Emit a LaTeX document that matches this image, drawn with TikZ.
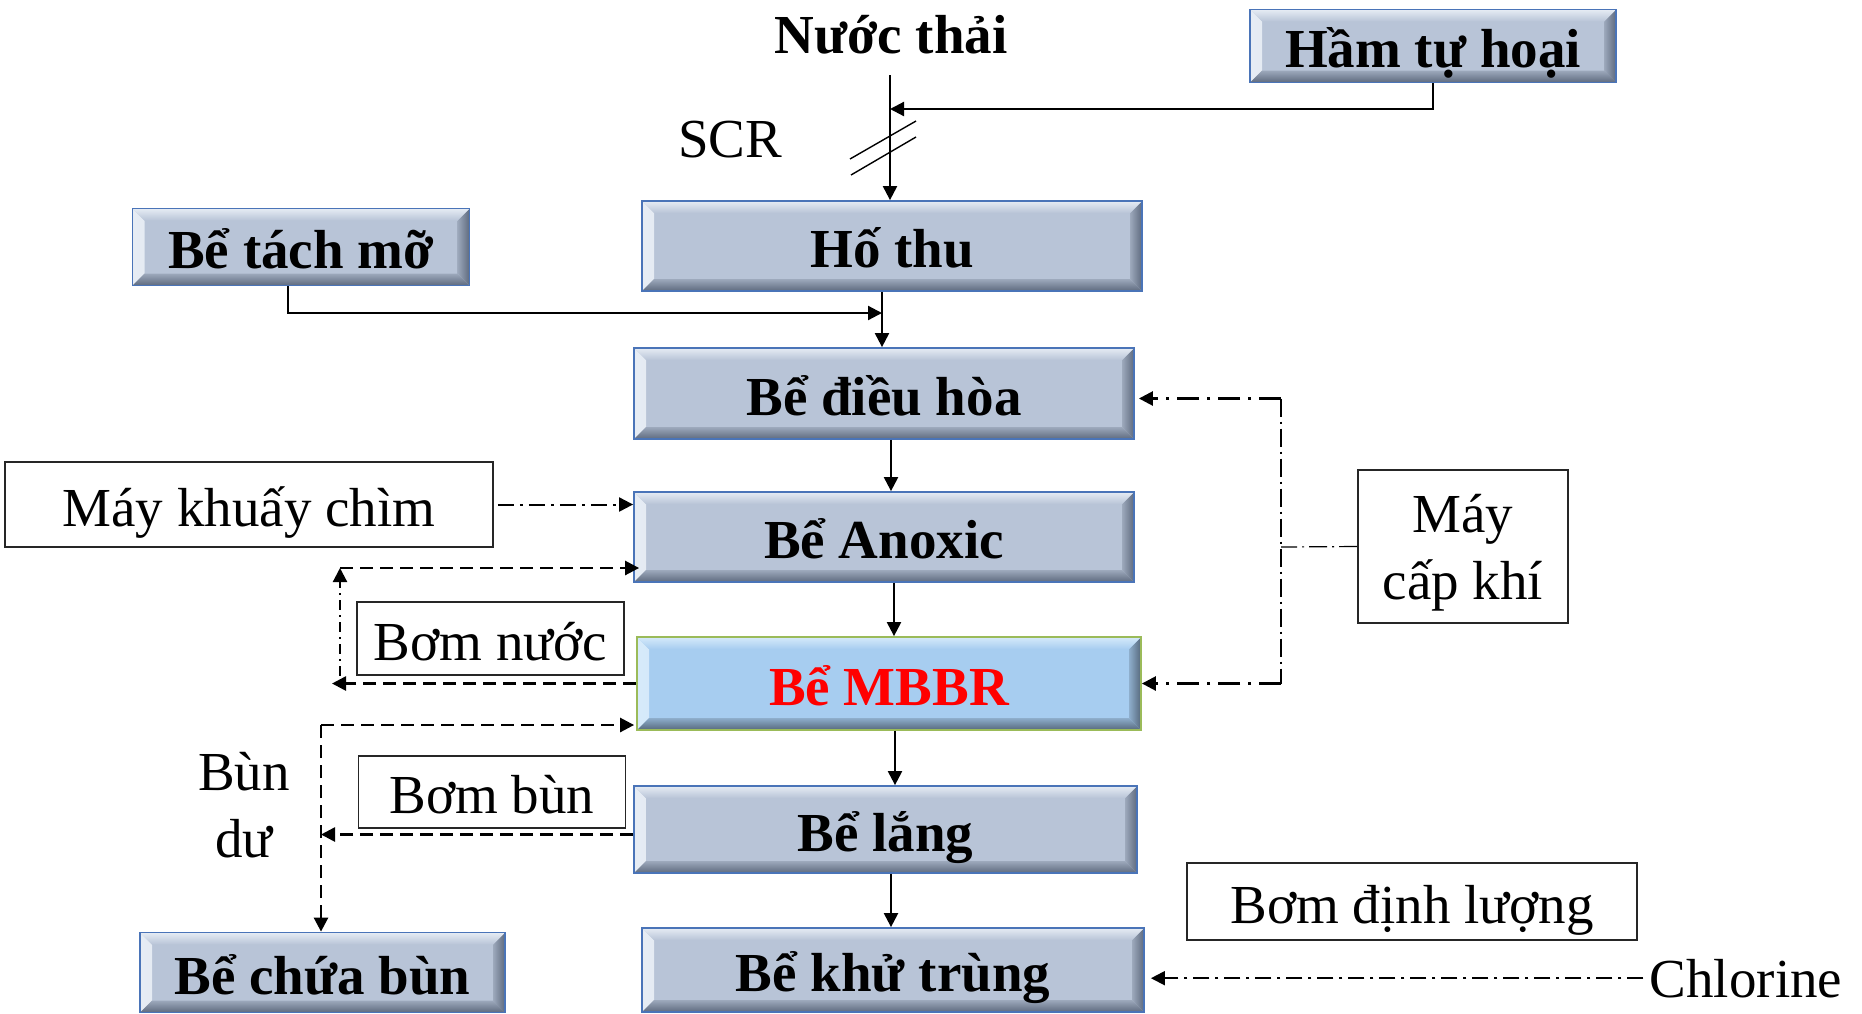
\documentclass[tikz,border=0pt]{standalone}
\usepackage{fontspec}
\setmainfont{Liberation Serif}
\usetikzlibrary{arrows.meta}

% tank colours (grey-blue bevelled boxes)
\definecolor{gyface}{HTML}{B8C4D7}
\definecolor{gyhi}{HTML}{E6ECF4}
\definecolor{gymid}{HTML}{9DA9BC}
\definecolor{gydark}{HTML}{5E6A7E}
\definecolor{gyborder}{HTML}{4A74B8}
% tank colours (light blue reactor)
\definecolor{blface}{HTML}{A7CDF0}
\definecolor{blhi}{HTML}{D6EAFA}
\definecolor{blmid}{HTML}{8EAECC}
\definecolor{bldark}{HTML}{56687C}
\definecolor{blborder}{HTML}{9BBB59}

\tikzset{
  txt/.style={font=\fontsize{27.5pt}{33.5pt}\selectfont, inner sep=0pt},
  oneline/.style={text height=23.4pt, text depth=1.9pt},
  bevel/.style={
    draw=#1border, line width=0.9pt, fill=#1face,
    path picture={
      \def\bw{6pt}
      % left edge
      \shade[left color=#1hi, right color=#1face]
        (path picture bounding box.north west) -- (path picture bounding box.south west)
        -- ([shift={(\bw,\bw)}]path picture bounding box.south west)
        -- ([shift={(\bw,-\bw)}]path picture bounding box.north west) -- cycle;
      % right edge
      \shade[left color=#1mid, right color=#1dark]
        (path picture bounding box.north east) -- (path picture bounding box.south east)
        -- ([shift={(-\bw,\bw)}]path picture bounding box.south east)
        -- ([shift={(-\bw,-\bw)}]path picture bounding box.north east) -- cycle;
      % top edge
      \shade[top color=#1hi, bottom color=#1face]
        (path picture bounding box.north west) -- (path picture bounding box.north east)
        -- ([shift={(-\bw,-\bw)}]path picture bounding box.north east)
        -- ([shift={(\bw,-\bw)}]path picture bounding box.north west) -- cycle;
      % bottom edge
      \shade[top color=#1mid, bottom color=#1dark]
        (path picture bounding box.south west) -- (path picture bounding box.south east)
        -- ([shift={(-\bw,\bw)}]path picture bounding box.south east)
        -- ([shift={(\bw,\bw)}]path picture bounding box.south west) -- cycle;
    }},
  tank/.style={txt, oneline, bevel=gy, font=\fontsize{27.5pt}{33.5pt}\selectfont\bfseries},
  reactor/.style={txt, oneline, bevel=bl, text=red, font=\fontsize{27.5pt}{33.5pt}\selectfont\bfseries},
  device/.style={txt, draw=black!85, line width=0.8pt, fill=white, align=center},
  tip/.style={-{Triangle[length=7pt,width=7pt]}},
  flow/.style={tip, line width=1.1pt},
  dashflow/.style={tip, line width=1.3pt, dash pattern=on 6.5pt off 3.5pt},
  ddthick/.style={line width=1.3pt, dash pattern=on 11pt off 4pt on 1.5pt off 4pt},
  ddthin/.style={line width=0.6pt, dash pattern=on 9pt off 2.5pt on 1pt off 2.5pt},
  ddmid/.style={tip, line width=1pt, dash pattern=on 8pt off 3pt on 1.5pt off 3pt},
}

\begin{document}
\begin{tikzpicture}[x=0.5pt,y=-0.5pt]
\useasboundingbox (0,0) rectangle (1862,1013);

% ---- treatment line ----
\node[tank, minimum width=183pt, minimum height=36.5pt] (ham) at (1433,46) {Hầm tự hoại};
\node[tank, minimum width=250pt, minimum height=45pt] (hothu) at (892,246) {Hố thu};
\node[tank, minimum width=168.5pt, minimum height=38.5pt] (tachmo) at (301,247) {Bể tách mỡ};
\node[tank, minimum width=250pt, minimum height=45.5pt] (dieuhoa) at (884,393.5) {Bể điều hòa};
\node[tank, minimum width=250pt, minimum height=45pt] (anoxic) at (884,537) {Bể Anoxic};
\node[reactor, minimum width=252pt, minimum height=46.5pt] (mbbr) at (889,683.5) {Bể MBBR};
\node[tank, minimum width=251.5pt, minimum height=43.5pt] (lang) at (885.5,829.5) {Bể lắng};
\node[tank, minimum width=251pt, minimum height=42pt] (khutrung) at (893,970) {Bể khử trùng};
\node[tank, minimum width=182.5pt, minimum height=40pt] (chuabun) at (322.5,972.5) {Bể chứa bùn};

% ---- equipment ----
\node[device, oneline, minimum width=244pt, minimum height=42.5pt] (maykhuay) at (249,504.5) {Máy khuấy chìm};
\node[device, oneline, minimum width=133.5pt, minimum height=36.5pt] (bomnuoc) at (490.5,638.5) {Bơm nước};
\node[device, oneline, minimum width=133.5pt, minimum height=36pt] (bombun) at (492,792) {Bơm bùn};
\node[device, text depth=0pt, minimum width=105pt, minimum height=76.5pt] (maycapkhi) at (1463,546.5) {Máy\\cấp khí};
\node[device, oneline, minimum width=225pt, minimum height=38.5pt] (dinhluong) at (1412,901.5) {Bơm định lượng};

% ---- free labels ----
\node[txt, font=\fontsize{27.5pt}{33.5pt}\selectfont\bfseries, anchor=base] (nuocthai) at (891,53) {Nước thải};
\node[txt, anchor=base] (scr) at (730,157) {SCR};
\node[txt, anchor=base] (chlorine) at (1746,997) {Chlorine};
\node[txt, align=center] (bundu) at (244,805) {Bùn\\dư};

% ---- raw water inlet with screen ----
\coordinate (inlet) at (890,75);
\coordinate (j1) at (890,109);
\draw[flow] (inlet) -- (inlet |- hothu.north);
\draw[flow] (ham.south) |- (j1);
\draw[line width=0.7pt] (850,159) -- (916,121);
\draw[line width=0.7pt] (851,175) -- (916,137);

% ---- main flow ----
\coordinate (j2) at (882,313);
\draw[flow] ([xshift=-6.5pt]tachmo.south) |- (j2);
\draw[flow] (hothu.south -| j2) -- (dieuhoa.north -| j2);
\draw[flow] ([xshift=3.5pt]dieuhoa.south) -- ([xshift=3.5pt]dieuhoa.south |- anoxic.north);
\draw[flow] ([xshift=5pt]anoxic.south) -- ([xshift=5pt]anoxic.south |- mbbr.north);
\draw[flow] ([xshift=3pt]mbbr.south) -- ([xshift=3pt]mbbr.south |- lang.north);
\draw[flow] ([xshift=2.75pt]lang.south) -- ([xshift=2.75pt]lang.south |- khutrung.north);

% ---- mixer ----
\draw[ddmid] ([xshift=2pt]maykhuay.east) -- (maykhuay.east -| anoxic.west);

% ---- internal recirculation ----
\coordinate (rl) at (340,683.5);
\coordinate (ru) at (340,568);
\draw[dashflow] (mbbr.west) -- ([xshift=-4pt]rl);
\draw[tip, line width=1.1pt, dash pattern=on 5pt off 2.5pt on 1pt off 2.5pt] ([yshift=4pt]rl) -- (ru);
\draw[dashflow] (ru) -- ([xshift=3pt]ru -| anoxic.west);

% ---- sludge return and waste ----
\coordinate (sl) at (321,725);
\draw[dashflow] (sl) -- ([xshift=-1pt]sl -| mbbr.west);
\draw[dashflow] (sl) -- (sl |- chuabun.north);
\draw[dashflow] ([yshift=-2.5pt]lang.west) -- ([yshift=-2.5pt]lang.west -| sl);

% ---- aeration ----
\coordinate (air) at (1281,547);
\draw[ddthin] (maycapkhi.west) -- (air);
\draw[ddthin] ([yshift=-2.5pt]dieuhoa.east -| air) -- (mbbr.east -| air);
\draw[ddthick, tip] ([yshift=-2.5pt]dieuhoa.east -| air) -- ([xshift=2pt,yshift=-2.5pt]dieuhoa.east);
\draw[ddthick, tip] (mbbr.east -| air) -- (mbbr.east);

% ---- disinfection dosing ----
\draw[ddmid] ([xshift=-3pt]chlorine.west) -- ([xshift=3pt]chlorine.west -| khutrung.east);
\end{tikzpicture}
\end{document}
